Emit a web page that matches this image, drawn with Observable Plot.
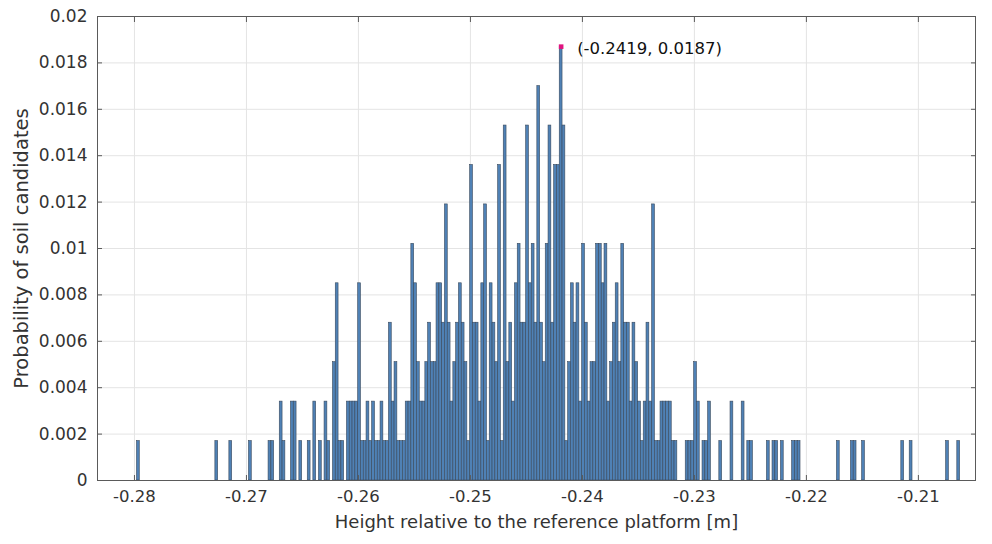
<!DOCTYPE html>
<html><head><meta charset="utf-8">
<script src="https://cdn.jsdelivr.net/npm/d3@7"></script>
<script src="https://cdn.jsdelivr.net/npm/@observablehq/plot@0.6"></script>
<style>html,body{margin:0;padding:0;background:#fff}#chart{width:992px;height:544px}</style>
</head><body><div id="chart"></div>
<script>
// Histogram bins (bin width and first bin centre in metres)
const binWidth = 0.00025;
const firstBinCenter = -0.27965;
const probPerCount = 0.0017;
// number of candidates in each bin, bin 0 .. 293
const counts = [
  1,0,0,0,0,0,0,0,0,0,
  0,0,0,0,0,0,0,0,0,0,
  0,0,0,0,0,0,0,0,1,0,
  0,0,0,1,0,0,0,0,0,0,
  1,0,0,0,0,0,0,1,1,0,
  0,2,1,0,0,2,2,0,1,0,
  0,1,0,2,0,1,0,2,1,0,
  3,5,1,1,0,2,2,2,2,5,
  1,1,2,1,2,1,1,2,1,1,
  4,2,3,1,1,1,2,2,6,5,
  3,2,2,3,4,3,3,5,5,4,
  7,4,2,3,4,5,4,3,1,8,
  4,4,2,5,7,1,5,4,3,8,
  1,9,3,4,2,5,6,4,4,9,
  5,6,4,10,4,3,6,9,4,8,
  8,11,9,1,3,5,4,5,2,6,
  4,2,3,3,6,6,5,6,2,3,
  4,5,3,6,4,4,2,4,3,2,
  1,2,4,2,7,1,1,2,2,2,
  2,1,1,0,0,0,1,1,1,3,
  2,0,1,1,2,0,0,0,1,0,
  0,0,2,0,0,0,2,0,1,1,
  0,0,0,0,0,1,0,1,1,0,
  1,0,0,0,1,1,1,0,0,0,
  0,0,0,0,0,0,0,0,0,0,
  1,0,0,0,0,1,1,0,0,1,
  0,0,0,0,0,0,0,0,0,0,
  0,0,0,1,0,0,1,0,0,0,
  0,0,0,0,0,0,0,0,0,1,
  0,0,0,1
];
const xTicks = [-0.28, -0.27, -0.26, -0.25, -0.24, -0.23, -0.22, -0.21];
const xTickLabels = ["-0.28", "-0.27", "-0.26", "-0.25", "-0.24", "-0.23", "-0.22", "-0.21"];
const yTicks = [0, 0.002, 0.004, 0.006, 0.008, 0.01, 0.012, 0.014, 0.016, 0.018, 0.02];
const yTickLabels = ["0", "0.002", "0.004", "0.006", "0.008", "0.01", "0.012", "0.014", "0.016", "0.018", "0.02"];
const xDomain = [-0.2833, -0.2049];
const yDomain = [0, 0.02];
const xLabel = "Height relative to the reference platform [m]";
const yLabel = "Probability of soil candidates";
const peakX = [-0.2419];
const peakY = [0.0187];
const peakLabel = ["(-0.2419, 0.0187)"];

const bins = counts.map((c, i) => ({
  x1: firstBinCenter + (i - 0.5) * binWidth,
  x2: firstBinCenter + (i + 0.5) * binWidth,
  p: c * probPerCount
})).filter(d => d.p > 0);
const peak = peakX.map((x, i) => ({x, y: peakY[i], label: peakLabel[i]}));
const xFmt = new Map(xTicks.map((t, i) => [t, xTickLabels[i]]));
const yFmt = new Map(yTicks.map((t, i) => [t, yTickLabels[i]]));

const font = "'DejaVu Sans', Verdana, sans-serif";
const ink = "#333333";
const chart = Plot.plot({
  width: 992, height: 544,
  marginLeft: 97, marginRight: 17, marginTop: 16, marginBottom: 64,
  style: {fontFamily: font, fontSize: "16px", color: ink, background: "#fff"},
  x: {domain: xDomain},
  y: {domain: yDomain},
  marks: [
    Plot.gridX(xTicks, {stroke: "#e4e4e4", strokeOpacity: 1}),
    Plot.gridY(yTicks, {stroke: "#e4e4e4", strokeOpacity: 1}),
    Plot.rectY(bins, {x1: "x1", x2: "x2", y1: 0, y2: "p", fill: "#4f81b5", stroke: "#39495c", strokeWidth: 0.6}),
    Plot.frame({stroke: "#5a5a5a", strokeWidth: 1}),
    Plot.axisX(xTicks, {tickSize: 0, tickPadding: 10, tickFormat: d => xFmt.get(d), label: null, fontSize: 16.5}),
    Plot.axisY(yTicks, {tickSize: 0, tickPadding: 10, tickFormat: d => yFmt.get(d), label: null, fontSize: 17}),
    Plot.axisX(xTicks, {anchor: "bottom", tickSize: -5, tickFormat: () => "", label: null, stroke: "#5a5a5a"}),
    Plot.axisX(xTicks, {anchor: "top", tickSize: -5, tickFormat: () => "", label: null, stroke: "#5a5a5a"}),
    Plot.axisY(yTicks, {anchor: "left", tickSize: -5, tickFormat: () => "", label: null, stroke: "#5a5a5a"}),
    Plot.axisY(yTicks, {anchor: "right", tickSize: -5, tickFormat: () => "", label: null, stroke: "#5a5a5a"}),
    Plot.dot(peak, {x: "x", y: "y", symbol: "square", r: 2.6, fill: "#e0147f", stroke: null}),
    Plot.text(peak, {x: "x", y: "y", text: "label", textAnchor: "start", dx: 16, dy: 2, fontSize: 16.5, fill: "#111"}),
    Plot.text([yLabel], {text: d => d, frameAnchor: "left", textAnchor: "middle", dx: -76, rotate: -90, fontSize: 19.5, fill: ink}),
    Plot.text([xLabel], {text: d => d, frameAnchor: "bottom", textAnchor: "middle", dy: 47, fontSize: 18, fill: ink})
  ]
});
document.getElementById("chart").appendChild(chart);
</script>
</body></html>
